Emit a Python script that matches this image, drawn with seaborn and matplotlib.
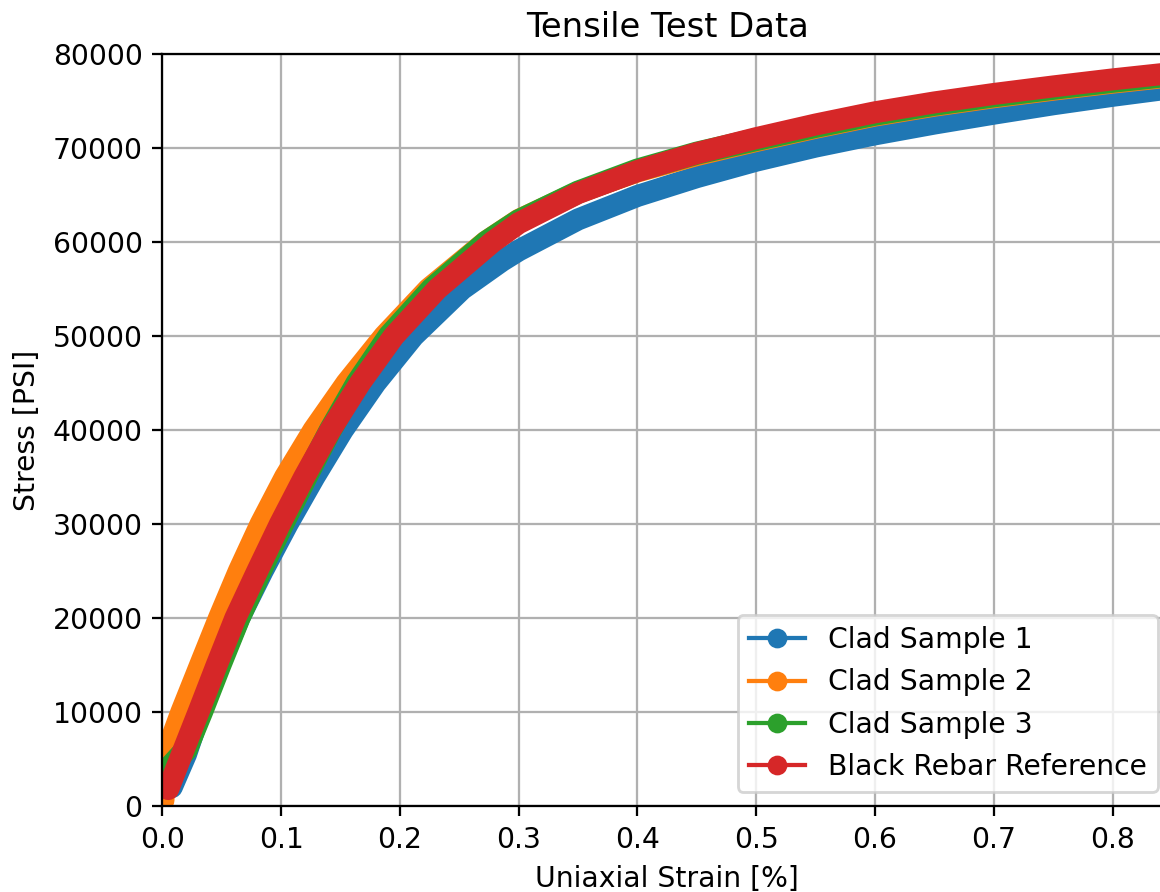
import numpy as np
import pandas as pd
import matplotlib
matplotlib.use("Agg")
import matplotlib.pyplot as plt
from matplotlib.lines import Line2D
import seaborn as sns

# Strain [%] / stress [psi]
clad1_strain = [0.008, 0.020, 0.032, 0.048, 0.0648, 0.0845, 0.1055, 0.128, 0.152, 0.1795, 0.2115, 0.2525,
                0.286, 0.30, 0.35, 0.40, 0.45, 0.50, 0.55, 0.60, 0.65, 0.70, 0.75, 0.80, 0.87]
clad1_stress = [2000, 5500, 10000, 15000, 20000, 25000, 30000, 35000, 40000, 45000, 50000, 55000,
                58000, 59100, 62400, 64900, 66900, 68650, 70150, 71450, 72600, 73650, 74650, 75550, 76700]

clad2_strain = [0.001, 0.002, 0.016, 0.0318, 0.0477, 0.0644, 0.0827, 0.1033, 0.1273, 0.155, 0.1868, 0.224,
                0.272, 0.30, 0.35, 0.40, 0.45, 0.50, 0.55, 0.60, 0.65, 0.70, 0.75, 0.80, 0.87]
clad2_stress = [600, 5200, 10000, 15000, 20000, 25000, 30000, 35000, 40000, 45000, 50000, 55000,
                60000, 62350, 65300, 67500, 69250, 70750, 72150, 73450, 74500, 75400, 76200, 76950, 77900]

clad3_strain = [0.003, 0.004, 0.020, 0.033, 0.0485, 0.0645, 0.0825, 0.1013, 0.121, 0.1415, 0.164, 0.191,
                0.227, 0.273, 0.30, 0.35, 0.40, 0.45, 0.50, 0.55, 0.60, 0.65, 0.70, 0.75, 0.80, 0.87]
clad3_stress = [2500, 3800, 6000, 10000, 15000, 20000, 25000, 30000, 35000, 40000, 45000, 50000,
                55000, 60000, 62250, 65300, 67650, 69450, 70900, 72300, 73600, 74650, 75550, 76350, 77100, 78050]

rebar_strain = [0.005, 0.018, 0.0305, 0.0458, 0.0615, 0.080, 0.099, 0.1195, 0.1415, 0.1665, 0.195, 0.2315,
                0.278, 0.30, 0.35, 0.40, 0.45, 0.50, 0.55, 0.60, 0.65, 0.70, 0.75, 0.80, 0.87]
rebar_stress = [1800, 6000, 10000, 15000, 20000, 25000, 30000, 35000, 40000, 45000, 50000, 55000,
                60000, 62000, 65200, 67550, 69450, 71050, 72500, 73800, 74850, 75750, 76550, 77300, 78250]

labels = ["Clad Sample 1", "Clad Sample 2", "Clad Sample 3", "Black Rebar Reference"]
colors = ["#1f77b4", "#ff7f0e", "#2ca02c", "#d62728"]
widths = [7.8, 7.8, 8.2, 7.8]

series = [(clad1_strain, clad1_stress), (clad2_strain, clad2_stress),
          (clad3_strain, clad3_stress), (rebar_strain, rebar_stress)]

dpi = 203
fig = plt.figure(figsize=(1160 / dpi, 892 / dpi), dpi=dpi)
ax = fig.add_axes([162.3 / 1160, 86 / 892, (1172 - 162.3) / 1160, 752 / 892])

for (strain, stress), color, lw in zip(series, colors, widths):
    df = pd.DataFrame({"strain": strain, "stress": stress})
    sns.lineplot(data=df, x="strain", y="stress", sort=False, color=color, linewidth=lw,
                 solid_capstyle="round", solid_joinstyle="round", legend=False, ax=ax)

ax.set_xlim(0, 0.85)
ax.set_ylim(0, 80000)
ax.set_xticks(np.arange(0, 0.81, 0.1))
ax.set_yticks(np.arange(0, 80001, 10000))
ax.grid(True)

ax.set_title("Tensile Test Data", fontsize=12)
ax.set_xlabel("Uniaxial Strain [%]")
ax.set_ylabel("Stress [PSI]")

# legend shows the thin line + dot style of the original plot call
handles = [Line2D([0], [0], color=c, marker="o", linewidth=1.5, markersize=6) for c in colors]
ax.legend(handles, labels, loc="lower right")

fig.savefig("out.png", dpi=dpi)
